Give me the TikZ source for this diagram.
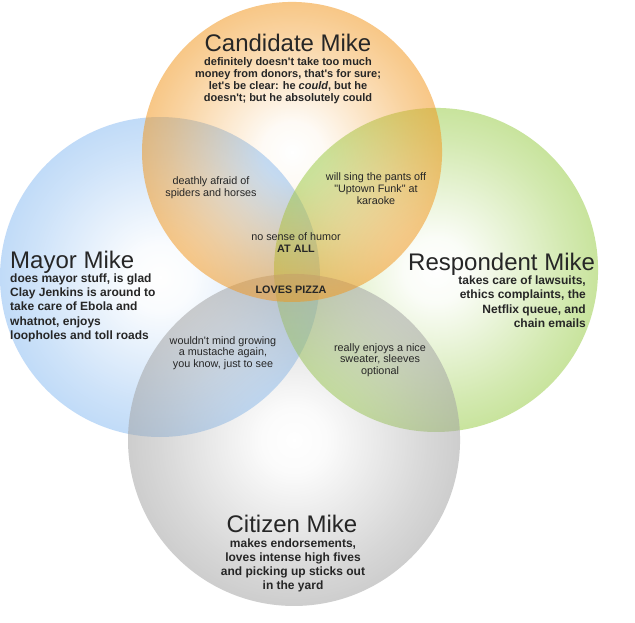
\documentclass[tikz,border=0pt]{standalone}
\usepackage{fontspec}
\setmainfont{Liberation Sans}[Ligatures=TeXOff]
\usetikzlibrary{fadings}
\definecolor{cOrange}{RGB}{242,150,28}
\definecolor{cBlue}{RGB}{138,188,242}
\definecolor{cGreen}{RGB}{152,204,70}
\definecolor{cGray}{RGB}{162,162,162}
\definecolor{txt}{RGB}{38,38,38}
\pgfdeclareradialshading{vennfadeshade}{\pgfpoint{0bp}{0bp}}{color(0bp)=(pgftransparent!100); color(5bp)=(pgftransparent!96); color(20bp)=(pgftransparent!58); color(30bp)=(pgftransparent!36); color(40bp)=(pgftransparent!17); color(50bp)=(pgftransparent!7)}
\pgfdeclarefading{vennfade}{\pgfuseshading{vennfadeshade}}
\tikzset{
  vennset/.style={path fading=vennfade},
  title/.style={font=\fontsize{24bp}{28bp}\selectfont, text=txt, inner sep=0pt},
  cbodytext/.style={font=\fontsize{11bp}{12bp}\selectfont\bfseries, text=txt, inner sep=0pt, align=center},
  bigbody/.style={font=\fontsize{12bp}{14.2bp}\selectfont\bfseries, text=txt, inner sep=0pt},
  small/.style={font=\fontsize{10.8bp}{11.8bp}\selectfont, text=txt, inner sep=0pt, align=center},
}
\begin{document}
\begin{tikzpicture}[x=1bp,y=-1bp]
\useasboundingbox (0,0) rectangle (635,623);
\fill[white] (0,0) rectangle (635,623);
% circles
\fill[cBlue, vennset] (160,277) circle[radius=160bp];
\fill[cGreen, vennset] (436,270) circle[radius=162bp];
\fill[cGray, vennset] (294,440) circle[radius=166bp];
\fill[cOrange, vennset] (292,152) circle[radius=150bp];
% titles
\node[title, anchor=base] (candT) at (288,52) {Candidate Mike};
\node[title, anchor=base west] (mayorT) at (10,268) {Mayor Mike};
\node[title, anchor=base west] (respT) at (408,270) {Respondent Mike};
\node[title, anchor=base] (citT) at (292,532) {Citizen Mike};
% bodies (anchor base = baseline of the last line)
\node[cbodytext, anchor=base] (candB) at (288,102) {definitely doesn't take too much\\money from donors, that's for sure;\\let's be clear: he \textit{could}, but he\\doesn't; but he absolutely could};
\node[bigbody, anchor=base west, align=left] (mayorB) at (10,339.3) {does mayor stuff, is glad\\Clay Jenkins is around to\\take care of Ebola and\\whatnot, enjoys\\loopholes and toll roads};
\node[bigbody, anchor=base east, align=right] (respB) at (586,327.2) {takes care of lawsuits,\\ethics complaints, the\\Netflix queue, and\\chain emails};
\node[bigbody, anchor=base, align=center, font=\fontsize{12bp}{13.7bp}\selectfont\bfseries] (citB) at (293,589) {makes endorsements,\\loves intense high fives\\and picking up sticks out\\in the yard};
% overlaps
\node[small, anchor=base] (ob) at (211,196) {deathly afraid of\\spiders and horses};
\node[small, anchor=base] (og) at (376,204.6) {will sing the pants off\\"Uptown Funk" at\\karaoke};
\node[small, anchor=base] (obg) at (296,252.6) {no sense of humor\\\textbf{AT ALL}};
\node[small, anchor=base, font=\fontsize{10.8bp}{11.8bp}\selectfont\bfseries] (all) at (291,293) {LOVES PIZZA};
\node[small, anchor=base] (bgr) at (223,367.6) {wouldn't mind growing\\a mustache again,\\you know, just to see};
\node[small, anchor=base] (ggr) at (380,374.6) {really enjoys a nice\\sweater, sleeves\\optional};
\end{tikzpicture}
\end{document}
